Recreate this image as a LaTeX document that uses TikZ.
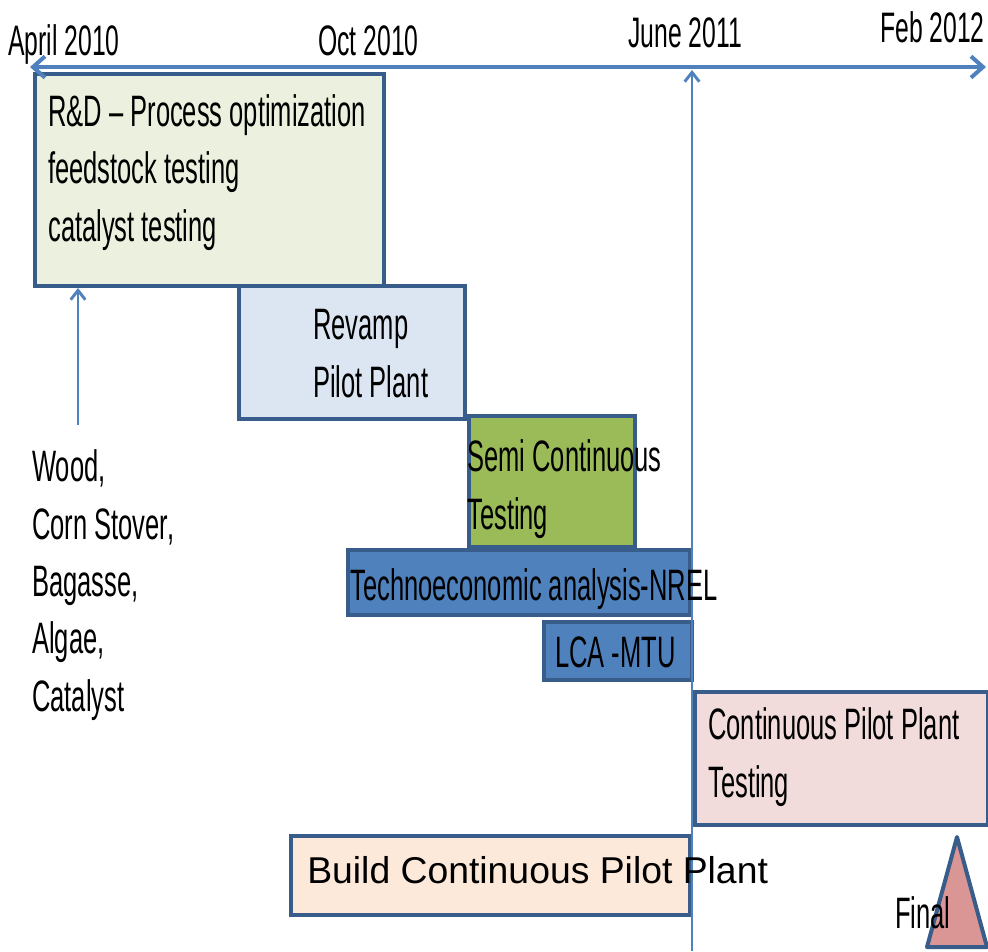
\documentclass[tikz,border=0pt]{standalone}
\usepackage{fontspec}
\setmainfont{Liberation Sans}
\newfontfamily\narrowfont[FakeStretch=0.58]{Liberation Sans}
\usetikzlibrary{arrows.meta}

\definecolor{axisblue}{HTML}{4F81BD}
\definecolor{boxline}{HTML}{385D8A}
\definecolor{rndfill}{HTML}{EBF1DE}
\definecolor{revfill}{HTML}{DCE6F2}
\definecolor{semifill}{HTML}{9BBB59}
\definecolor{techfill}{HTML}{4F81BD}
\definecolor{contfill}{HTML}{F2DCDB}
\definecolor{buildfill}{HTML}{FDE9D9}
\definecolor{finalfill}{HTML}{D99694}

\begin{document}
\begin{tikzpicture}[%
      x=0.75pt, y=-0.75pt,
      tbox/.style={draw=boxline, line width=3pt, anchor=north west, inner sep=0pt},
      txt/.style={font=\narrowfont\fontsize{33}{43}\selectfont, anchor=base west,
        inner sep=0pt, align=left},
      datetxt/.style={font=\narrowfont\fontsize{32}{40}\selectfont, anchor=base west,
        inner sep=0pt},
      ]
      \useasboundingbox (0,0) rectangle (988,951);

      % task boxes
      \node[tbox, fill=rndfill, minimum width=261.75pt, minimum height=159pt] (rnd) at (33,72) {};
      \node[tbox, fill=revfill, minimum width=169.5pt, minimum height=99.75pt] (revamp) at (237,284) {};
      \node[tbox, fill=semifill, minimum width=124.5pt, minimum height=98.25pt] (semi) at (467,414) {};
      \node[tbox, fill=techfill, minimum width=256.5pt, minimum height=48.75pt] (techno) at (346,548) {};
      \node[tbox, fill=techfill, minimum width=111pt, minimum height=43.5pt] (lca) at (542,620) {};
      \node[tbox, fill=contfill, minimum width=219.75pt, minimum height=99.75pt] (cont) at (693,690) {};
      \node[tbox, fill=buildfill, minimum width=299.25pt, minimum height=59.25pt] (build) at (289,834) {};

      % milestone
      \filldraw[fill=finalfill, draw=boxline, line width=3pt, line join=round]
        (957,837) -- (987,947) -- (927,947) -- cycle;

      % time axis and arrows
      \coordinate (tstart) at (30,67);
      \coordinate (tend) at (986,67);
      \coordinate (junebot) at (692,951);
      \coordinate (junetop) at (692,70);
      \coordinate (feed) at (78,425);
      \draw[color=axisblue, line width=3pt,
        {Straight Barb[length=9pt,width=16pt]}-{Straight Barb[length=9pt,width=16pt]}]
        (tstart) -- (tend);
      \draw[color=axisblue, line width=2.2pt, -{Straight Barb[length=7pt,width=11pt]}]
        (junebot) -- (junetop);
      \draw[color=axisblue, line width=2.2pt, -{Straight Barb[length=7pt,width=11pt]}]
        (feed) -- (feed |- rnd.south);

      % dates
      \node[datetxt] (apr10) at (8,55) {April 2010};
      \node[datetxt] (oct10) at (318,55) {Oct 2010};
      \node[datetxt] (jun11) at (628,47) {June 2011};
      \node[datetxt, anchor=base east] (feb12) at (985,42) {Feb 2012};

      % labels (base = last line)
      \node[txt] (rndtxt) at (48,241) {R\&D – Process optimization\\feedstock testing\\catalyst testing};
      \node[txt] (revtxt) at (313,397) {Revamp\\Pilot Plant};
      \node[txt] (semitxt) at (467,529) {Semi Continuous\\Testing};
      \node[txt] (techtxt) at (350,600) {Technoeconomic\ analysis-NREL};
      \node[txt] (lcatxt) at (555,667) {LCA -MTU};
      \node[txt] (conttxt) at (708,797) {Continuous Pilot Plant\\Testing};
      \node[txt] (feedtxt) at (32,711) {Wood,\\Corn Stover,\\Bagasse,\\Algae,\\Catalyst};
      \node[font=\fontsize{28}{34}\selectfont, anchor=base west, inner sep=0pt] (buildtxt)
        at (307,883) {Build Continuous Pilot Plant};
      \node[txt] (finaltxt) at (895,928) {Final};
\end{tikzpicture}
\end{document}
